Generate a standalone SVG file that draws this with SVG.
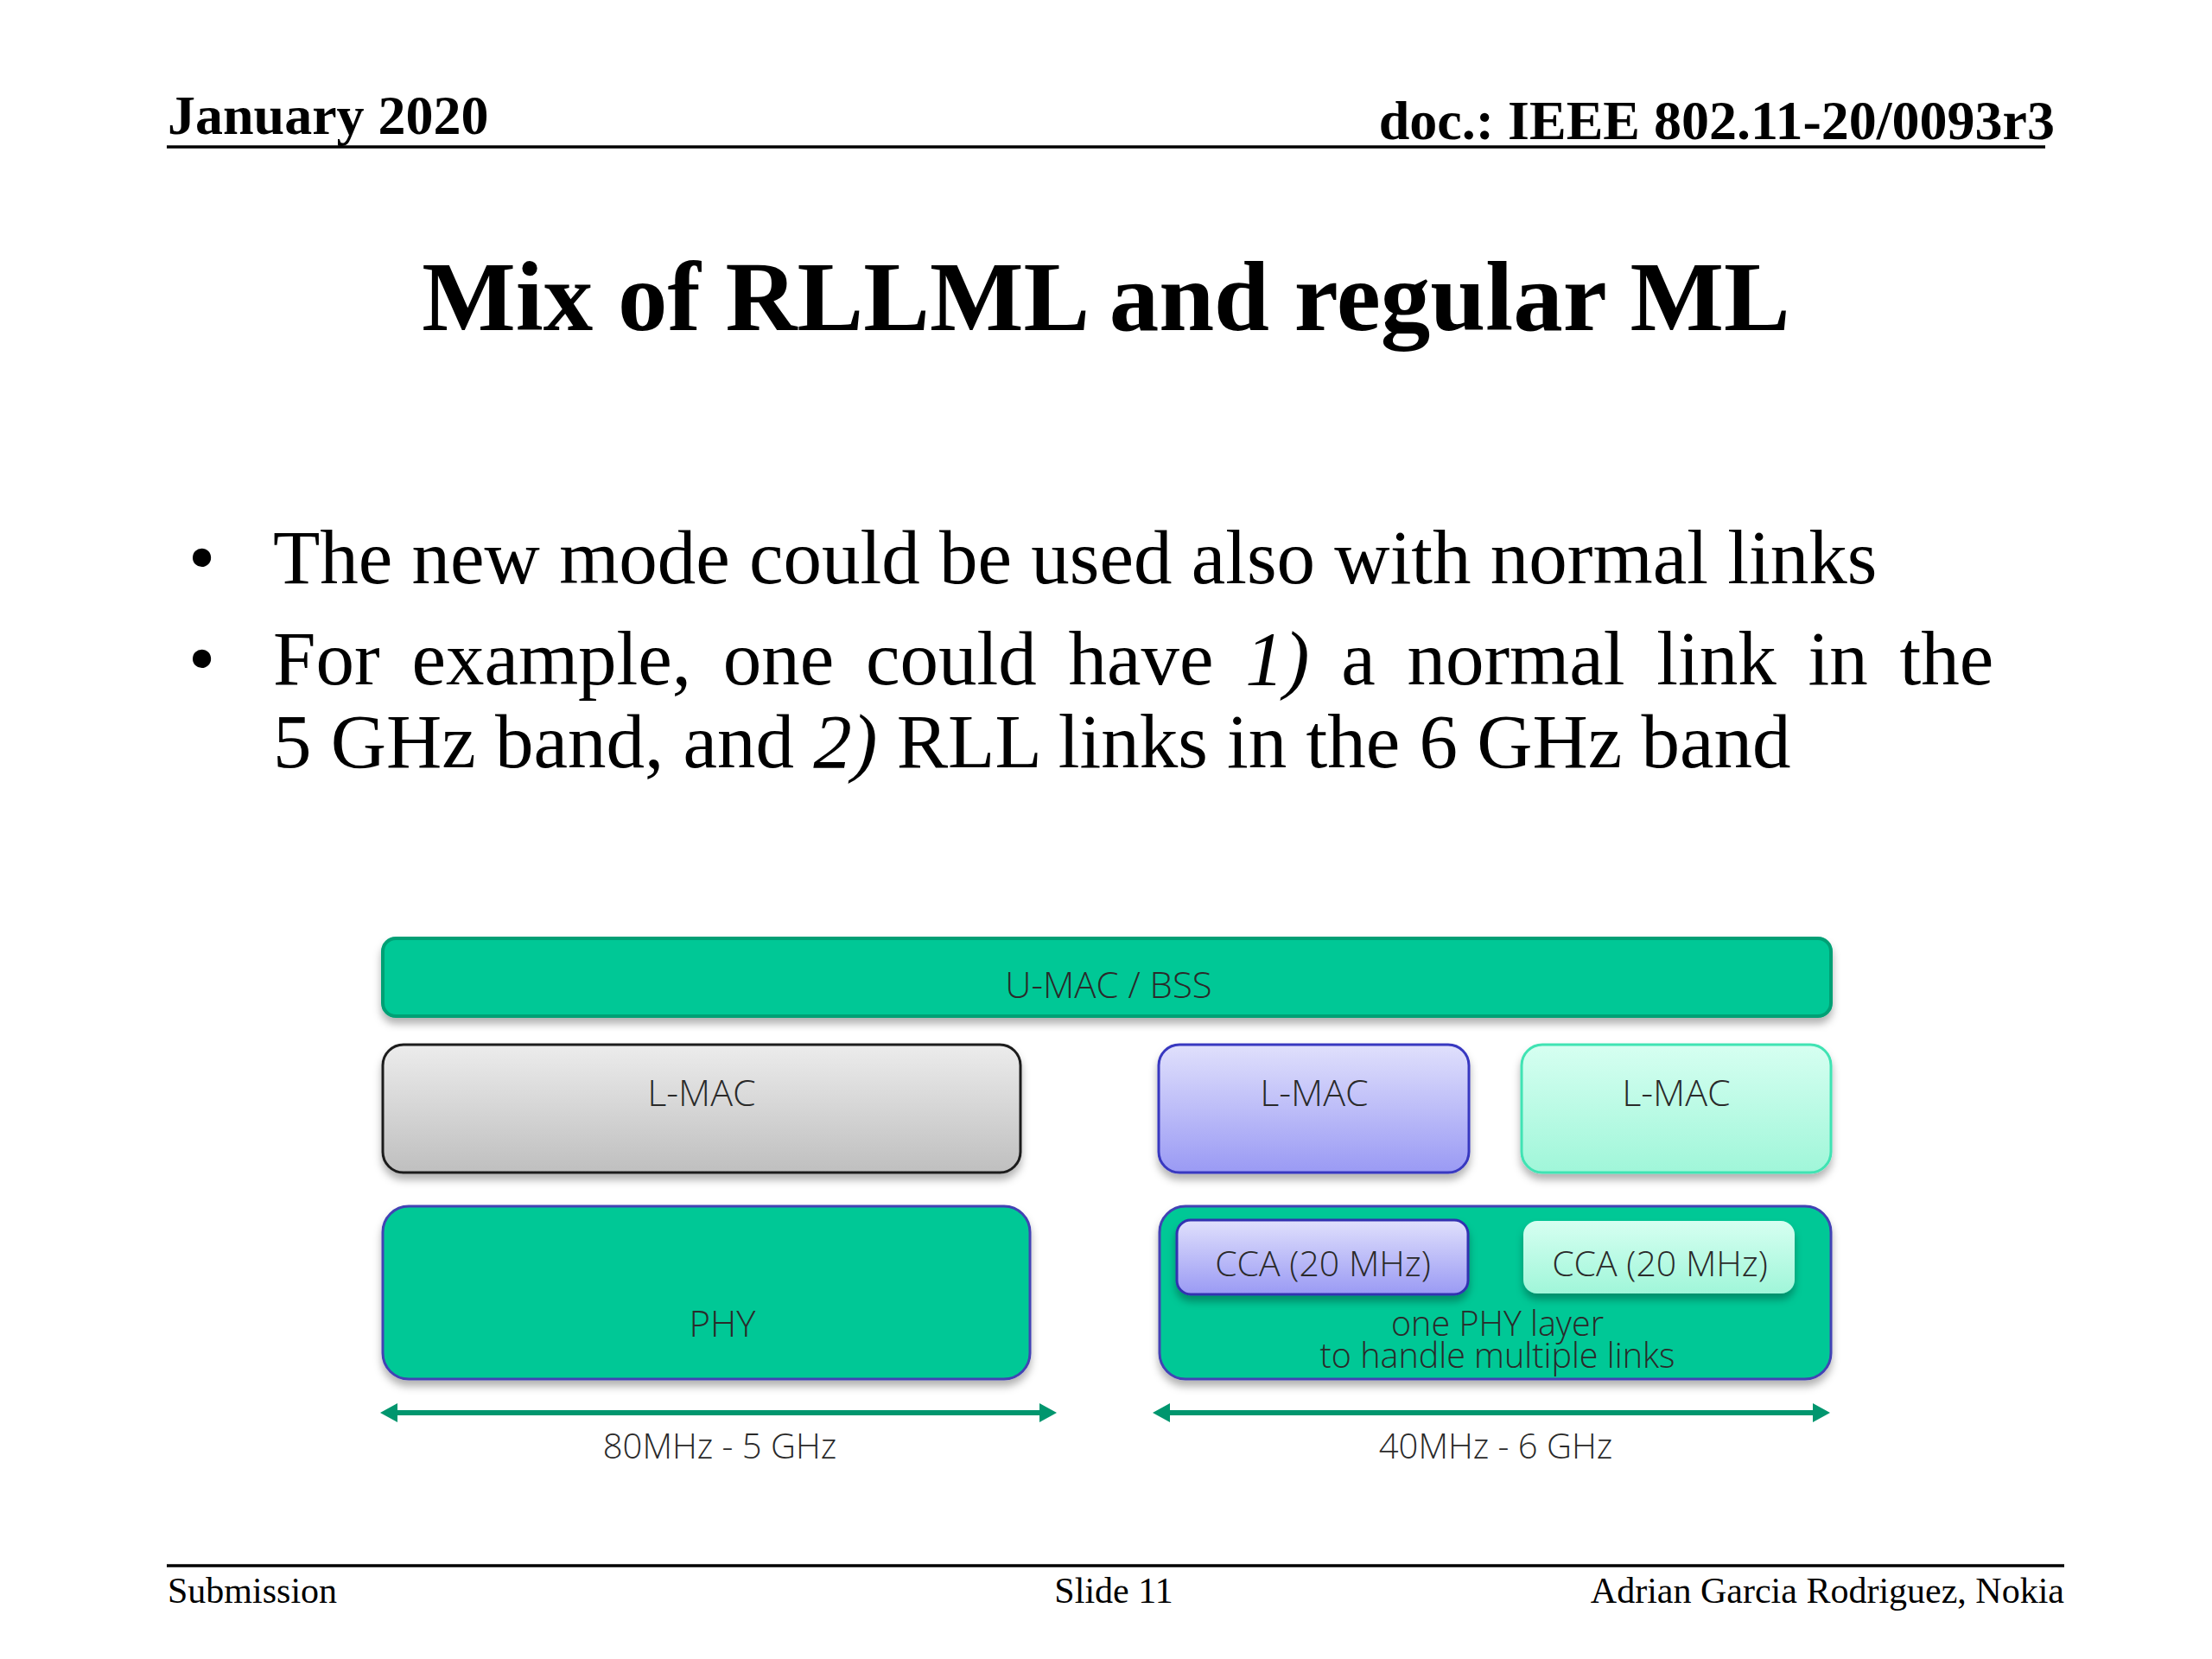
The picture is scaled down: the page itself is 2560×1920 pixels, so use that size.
<svg xmlns="http://www.w3.org/2000/svg" width="2560" height="1920" viewBox="0 0 2560 1920">
<defs>
<style>
.hdr{font-family:"Liberation Serif","Times New Roman",serif;font-weight:bold;font-size:64px;fill:#000}
.title{font-family:"Liberation Serif","Times New Roman",serif;font-weight:bold;font-size:115px;fill:#000}
.body{font-family:"Liberation Serif","Times New Roman",serif;font-size:89px;fill:#000}
.ftr{font-family:"Liberation Serif","Times New Roman",serif;font-size:42px;fill:#000}
.lbl{font-family:"Open Sans","Noto Sans","DejaVu Sans",sans-serif;font-weight:300;fill:#2a2a2a;text-anchor:middle}
.rule{stroke:#000;stroke-width:3.5}
.arrow{stroke:#00966E;stroke-width:6;fill:none;marker-start:url(#ah);marker-end:url(#ah)}
</style>
<linearGradient id="gGray" x1="0" y1="0" x2="0" y2="1"><stop offset="0" stop-color="#ececec"/><stop offset="1" stop-color="#bfbfbf"/></linearGradient>
<linearGradient id="gBlue" x1="0" y1="0" x2="0" y2="1"><stop offset="0" stop-color="#e0e0fc"/><stop offset="1" stop-color="#9a9af4"/></linearGradient>
<linearGradient id="gMint" x1="0" y1="0" x2="0" y2="1"><stop offset="0" stop-color="#d6fff1"/><stop offset="1" stop-color="#a0f6d9"/></linearGradient>
<filter id="sh" x="-5%" y="-10%" width="110%" height="130%"><feDropShadow dx="0" dy="7" stdDeviation="5" flood-color="#000" flood-opacity="0.3"/></filter>
<marker id="ah" viewBox="0 0 20 22" refX="2" refY="11" markerWidth="20" markerHeight="22" markerUnits="userSpaceOnUse" orient="auto-start-reverse"><path d="M0,0 L20,11 L0,22 z" fill="#00966E"/></marker>
</defs>

<g id="header">
<text class="hdr" x="194" y="155">January 2020</text>
<text class="hdr" x="2378" y="161" text-anchor="end">doc.: IEEE 802.11-20/0093r3</text>
<line class="rule" x1="193" y1="170" x2="2367" y2="170"/>
</g>

<g id="title">
<text class="title" x="1280" y="382" text-anchor="middle">Mix of RLLML and regular ML</text>
</g>

<g id="bullets">
<text class="body" x="218" y="675">•</text>
<text class="body" x="316" y="675">The new mode could be used also with normal links</text>
<text class="body" x="218" y="792">•</text>
<text class="body" x="316" y="792" word-spacing="14.5">For example, one could have <tspan font-style="italic">1)</tspan> a normal link in the</text>
<text class="body" x="316" y="888">5 GHz band, and <tspan font-style="italic">2)</tspan> RLL links in the 6 GHz band</text>
</g>

<g id="umac">
<rect x="443" y="1086" width="1676" height="90" rx="15" fill="#00C896" stroke="#00A075" stroke-width="4" filter="url(#sh)"/>
<text class="lbl" x="1283" y="1155" font-size="42">U-MAC / BSS</text>
</g>

<g id="lmac1">
<rect x="443" y="1209" width="738" height="148" rx="24" fill="url(#gGray)" stroke="#1e1e1e" stroke-width="3" filter="url(#sh)"/>
<text class="lbl" x="812" y="1280" font-size="43">L-MAC</text>
</g>

<g id="lmac2">
<rect x="1341" y="1209" width="359" height="148" rx="24" fill="url(#gBlue)" stroke="#3838c0" stroke-width="3" filter="url(#sh)"/>
<text class="lbl" x="1521" y="1280" font-size="43">L-MAC</text>
</g>

<g id="lmac3">
<rect x="1761" y="1209" width="358" height="148" rx="24" fill="url(#gMint)" stroke="#3fe3b3" stroke-width="3" filter="url(#sh)"/>
<text class="lbl" x="1940" y="1280" font-size="43">L-MAC</text>
</g>

<g id="phy1">
<rect x="443" y="1396" width="749" height="200" rx="30" fill="#00C896" stroke="#4242b4" stroke-width="3" filter="url(#sh)"/>
<text class="lbl" x="836" y="1547" font-size="42">PHY</text>
</g>

<g id="phy2">
<rect x="1342" y="1396" width="777" height="200" rx="30" fill="#00C896" stroke="#4242b4" stroke-width="3" filter="url(#sh)"/>
<text class="lbl" x="1733" y="1546" font-size="39.5">one PHY layer</text>
<text class="lbl" x="1733" y="1583" font-size="39.5">to handle multiple links</text>
</g>

<g id="cca1">
<rect x="1362" y="1412" width="337" height="86" rx="16" fill="url(#gBlue)" stroke="#3030b0" stroke-width="3" filter="url(#sh)"/>
<text class="lbl" x="1531" y="1477" font-size="41">CCA (20 MHz)</text>
</g>

<g id="cca2">
<rect x="1763" y="1413" width="314" height="84" rx="16" fill="url(#gMint)" filter="url(#sh)"/>
<text class="lbl" x="1921" y="1477" font-size="41">CCA (20 MHz)</text>
</g>

<g id="connectors">
<line class="arrow" x1="458" y1="1635" x2="1205" y2="1635"/>
<line class="arrow" x1="1352" y1="1635" x2="2100" y2="1635"/>
</g>

<g id="bandlabels">
<text class="lbl" x="833" y="1688" font-size="40">80MHz - 5 GHz</text>
<text class="lbl" x="1731" y="1688" font-size="40">40MHz - 6 GHz</text>
</g>

<g id="footer">
<line class="rule" x1="193" y1="1812" x2="2389" y2="1812"/>
<text class="ftr" x="194" y="1855">Submission</text>
<text class="ftr" x="1289" y="1855" text-anchor="middle">Slide 11</text>
<text class="ftr" x="2389" y="1855" text-anchor="end" font-size="42.5">Adrian Garcia Rodriguez, Nokia</text>
</g>
</svg>
